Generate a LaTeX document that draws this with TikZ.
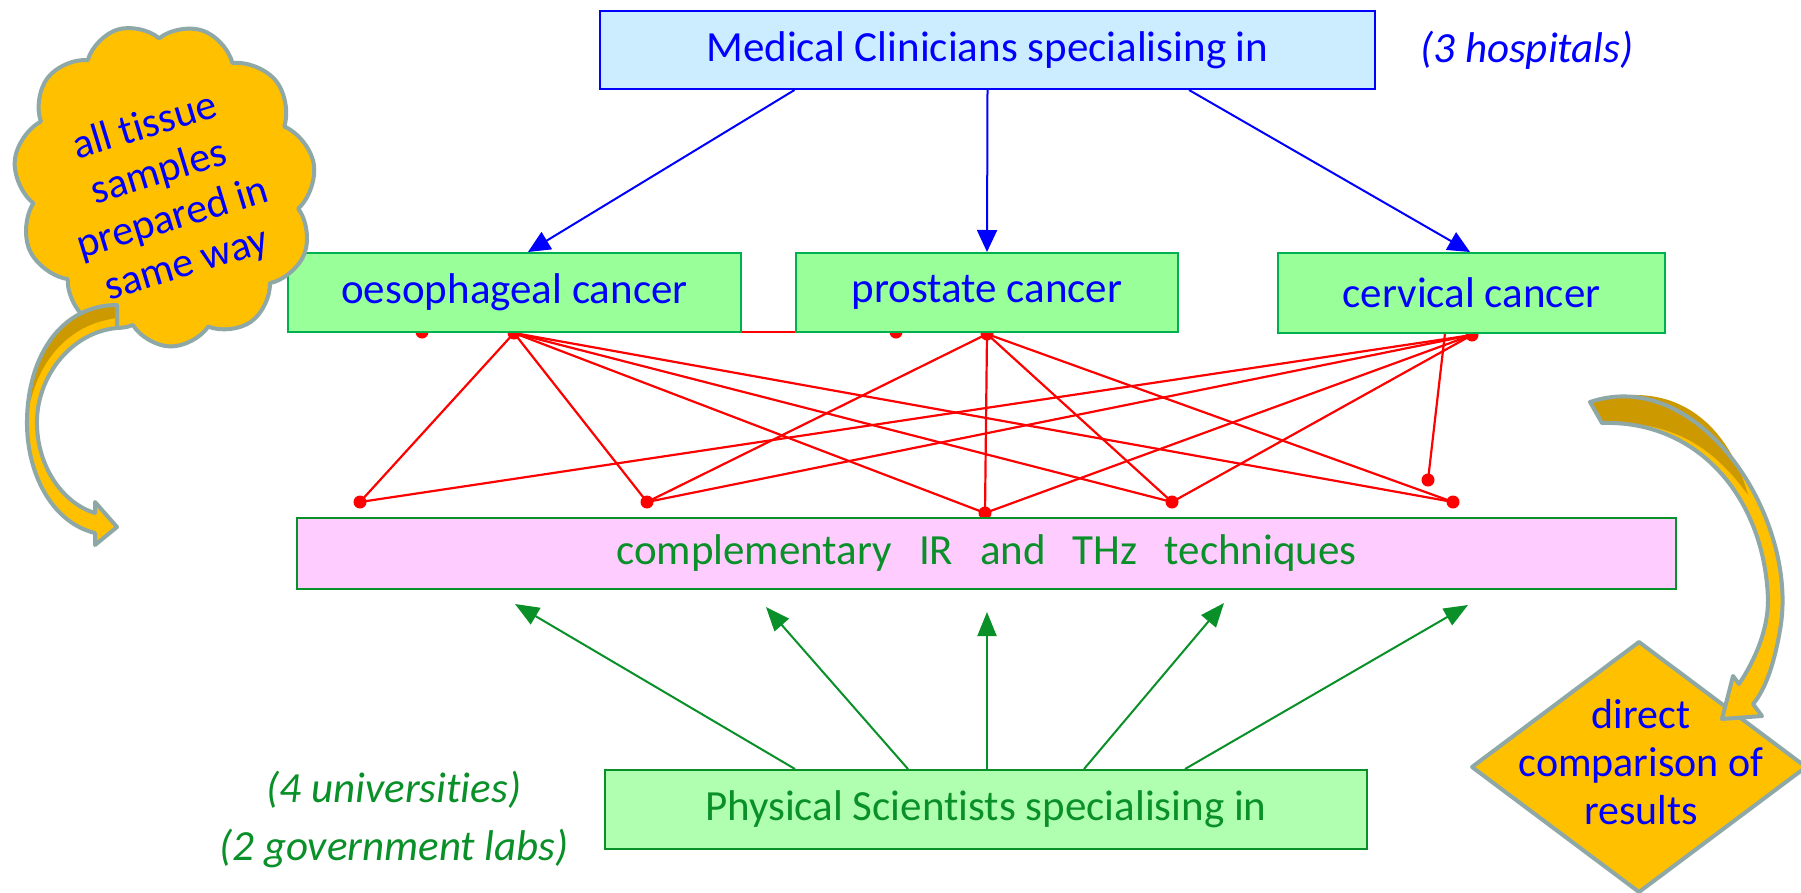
\documentclass[tikz,border=0pt]{standalone}
\usepackage{fontspec}
\setmainfont{Carlito}[Ligatures=NoCommon, Contextuals=NoAlternate]
\usetikzlibrary{shapes.symbols,arrows.meta,calc}
\definecolor{tblue}{HTML}{0000FF}
\definecolor{tgreen}{HTML}{0A9028}
\definecolor{boxgreen}{HTML}{99FF99}
\definecolor{lightgreen}{HTML}{B0FFB0}
\definecolor{pinkfill}{HTML}{FFCCFF}
\definecolor{lblue}{HTML}{CCECFF}
\definecolor{orng}{HTML}{FFC000}
\definecolor{dorng}{HTML}{CC9900}
\definecolor{outl}{HTML}{8EA8A8}
\definecolor{bordergreen}{HTML}{00B050}
\tikzset{
  bigfont/.style={font=\fontsize{43}{51}\selectfont},
  boxbase/.style={draw, line width=2pt, inner sep=0pt, bigfont},
  topbox/.style={boxbase, fill=lblue, draw=tblue, text=tblue},
  cancerbox/.style={boxbase, fill=boxgreen, draw=bordergreen, text=tblue},
  techbox/.style={boxbase, fill=pinkfill, draw=tgreen, text=tgreen},
  physbox/.style={boxbase, fill=lightgreen, draw=tgreen, text=tgreen},
  bluearrow/.style={draw=tblue, line width=2pt, -{Triangle[length=22pt,width=20pt]}},
  greenarrow/.style={draw=tgreen, line width=2pt, -{Triangle[length=24pt,width=19pt]}},
  redline/.style={draw=red, line width=2.2pt},
  reddot/.style={fill=red},
  note/.style={font=\fontsize{43}{51}\selectfont\itshape},
  calloutfill/.style={fill=orng},
  calloutline/.style={draw=outl, line width=4pt, line join=round},
  callouttext/.style={text=tblue, align=center, font=\fontsize{42}{48}\selectfont}
}
\begin{document}
\begin{tikzpicture}[x=1pt,y=-1pt]
\useasboundingbox (0,0) rectangle (1801,892);
\fill[white] (0,0) rectangle (1801,892);

% red dots and connectors (behind boxes)
\coordinate (t1) at (422,332);
\coordinate (t2) at (514,333);
\coordinate (t3) at (896,332);
\coordinate (t4) at (987,334);
\coordinate (t5) at (1472,335);
\coordinate (t6) at (1445,333);
\coordinate (b1) at (360,502);
\coordinate (b2) at (647,502);
\coordinate (b3) at (985,513);
\coordinate (b4) at (1172,502);
\coordinate (b5) at (1453,502);
\coordinate (b6) at (1428,480);
\draw[redline] (t1) -- (t3);
\foreach \b in {b1,b2,b3,b4,b5} \draw[redline] (t2) -- (\b);
\foreach \b in {b2,b3,b4,b5} \draw[redline] (t4) -- (\b);
\foreach \b in {b1,b2,b3,b4} \draw[redline] (t5) -- (\b);
\draw[redline] (t6) -- (b6);
\foreach \p in {t1,t2,t3,t4,t5,b1,b2,b3,b4,b5,b6} \fill[reddot] (\p) circle (6.5pt);

% boxes
\node[topbox, minimum width=775pt, minimum height=78pt] (top) at (987.5,50) {Medical Clinicians specialising in};
\node[cancerbox, minimum width=453pt, minimum height=79pt] (oes) at (514.5,292.5) {oesophageal cancer};
\node[cancerbox, minimum width=382pt, minimum height=79pt] (pros) at (987,292.5) {prostate cancer};
\node[cancerbox, minimum width=387pt, minimum height=80pt] (cerv) at (1471.5,293) {cervical cancer};
\node[techbox, minimum width=1379pt, minimum height=71pt] (tech) at (986.5,553)
  {complementary\hspace{27pt}IR\hspace{27pt}and\hspace{27pt}THz\hspace{27pt}techniques};
\node[physbox, minimum width=762pt, minimum height=79pt] (phys) at (986,809.5) {Physical Scientists specialising in};

% notes
\node[note, text=tblue] (hosp) at (1527,50) {(3 hospitals)};
\node[note, text=tgreen] (univ) at (394,790) {(4 universities)};
\node[note, text=tgreen] (labs) at (394,848) {(2 government labs)};

% blue arrows
\draw[bluearrow] ([xshift=-193pt]top.south) -- ([xshift=13.5pt]oes.north);
\draw[bluearrow] (top.south) -- (pros.north);
\draw[bluearrow] ([xshift=201.5pt]top.south) -- ([xshift=-1.5pt]cerv.north);

% green arrows
\coordinate (g1) at (515,604);
\coordinate (g2) at (766,607);
\coordinate (g3) at (987,612);
\coordinate (g4) at (1224,603);
\coordinate (g5) at (1468,605);
\draw[greenarrow] ([xshift=-191pt]phys.north) -- (g1);
\draw[greenarrow] ([xshift=-78pt]phys.north) -- (g2);
\draw[greenarrow] ([xshift=1pt]phys.north) -- (g3);
\draw[greenarrow] ([xshift=98pt]phys.north) -- (g4);
\draw[greenarrow] ([xshift=199pt]phys.north) -- (g5);

% cloud callout
\node[cloud, cloud puffs=11, cloud puff arc=115, aspect=1, minimum width=300pt, minimum height=325pt,
  calloutfill, calloutline, rotate=17] (cloud) at (165,185) {};
\node[callouttext, rotate=17] (cloudtxt) at (166,196) {all tissue\\samples\\prepared in\\same way};

% left curved arrow
\fill[orng] (117,305) -- (117,328) .. controls (72,332) and (38,375) .. (37,420)
  .. controls (36,465) and (62,503) .. (95,513) -- (95,502) -- (117,527) -- (95,545) -- (95,533)
  .. controls (50,522) and (26,470) .. (27,420) .. controls (28,355) and (62,305) .. (117,305) -- cycle;
\fill[dorng] (117,305) .. controls (62,305) and (28,355) .. (27,420)
  .. controls (33,370) and (62,325) .. (117,318) -- cycle;
\draw[calloutline] (117,305) -- (117,328) .. controls (72,332) and (38,375) .. (37,420)
  .. controls (36,465) and (62,503) .. (95,513) -- (95,502) -- (117,527) -- (95,545) -- (95,533)
  .. controls (50,522) and (26,470) .. (27,420) .. controls (28,355) and (62,305) .. (117,305) -- cycle;

% diamond
\path[calloutfill, calloutline] (1639,642) -- (1806,767) -- (1639,892) -- (1472,767) -- cycle;
\node[callouttext] (diamtxt) at (1641,762) {direct\\comparison of\\results};

% right curved arrow
\fill[orng] (1590,402) .. controls (1700,365) and (1800,520) .. (1780,630)
  .. controls (1774,665) and (1765,690) .. (1753,704) -- (1762,716) -- (1722,719) -- (1733,676) -- (1739,684)
  .. controls (1755,660) and (1768,630) .. (1768,600) .. controls (1765,500) and (1700,420) .. (1602,423) -- cycle;
\fill[dorng] (1590,402) .. controls (1680,375) and (1730,430) .. (1748,495)
  .. controls (1712,445) and (1670,420) .. (1602,423) -- cycle;
\draw[calloutline] (1590,402) .. controls (1700,365) and (1800,520) .. (1780,630)
  .. controls (1774,665) and (1765,690) .. (1753,704) -- (1762,716) -- (1722,719) -- (1733,676) -- (1739,684)
  .. controls (1755,660) and (1768,630) .. (1768,600) .. controls (1765,500) and (1700,420) .. (1602,423) -- cycle;
\end{tikzpicture}
\end{document}
